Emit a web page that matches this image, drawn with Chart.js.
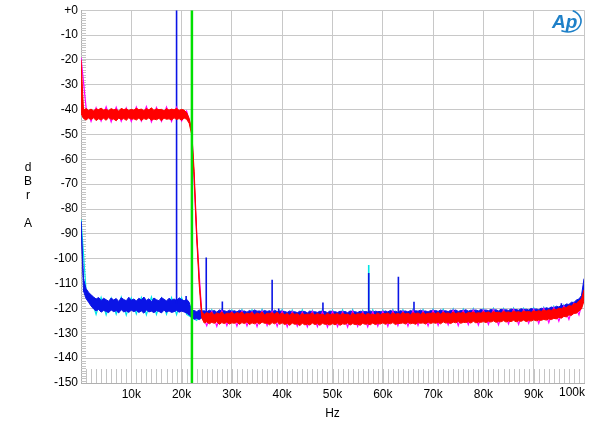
<!DOCTYPE html>
<html>
<head>
<meta charset="utf-8">
<script src="https://cdn.jsdelivr.net/npm/chart.js@4.4.1/dist/chart.umd.min.js"></script>
<style>
  html, body { margin: 0; padding: 0; background: #fff; }
  #wrap { width: 600px; height: 424px; }
</style>
</head>
<body>
<div id="wrap"><canvas id="fft-chart"></canvas></div>
<script>
// FFT traces in dBr A on a regular kHz grid.
// red / blue: upper and lower edge of the noise band (0.5 kHz steps)
// magenta / cyan: the second channel, seen only as specks round the edges (1 kHz steps)
const fineStepKHz = 0.5
const coarseStepKHz = 1

const redTopDb = [-20,
  -40.1,-39.6,-40.3,-39.8,-40.5,-39.7,-40.0,-39.4,-40.2,-39.9,-40.4,-39.6,-40.1,-39.8,-40.6,-39.5,-40.0,-39.7,-40.3,-39.9,
  -40.2,-39.5,-40.0,-39.8,-40.4,-39.6,-40.1,-39.3,-40.3,-39.7,-40.0,-39.9,-40.5,-39.6,-40.2,-39.8,-40.1,-39.5,-40.3,-39.9,
  -40.2,-41.2,-43.5,-48.0,-65.0,-89.0,-108.5,-121.2,-122.4,-121.7,-122.1,-121.5,-122.6,-121.8,-122.2,-121.4,-122.5,-121.9,-122.0,-121.6,
  -122.3,-121.7,-122.0,-121.5,-122.4,-121.9,-122.1,-121.6,-122.5,-121.8,-122.2,-121.4,-122.6,-121.9,-122.0,-121.7,-122.3,-121.5,-122.4,-121.8,
  -122.5,-122.0,-122.7,-121.8,-122.4,-122.1,-122.8,-121.9,-122.6,-122.2,-122.4,-121.8,-122.7,-122.0,-122.5,-122.2,-122.8,-121.9,-122.6,-122.1,
  -122.4,-122.0,-122.7,-121.9,-122.5,-122.2,-122.8,-121.8,-122.6,-122.1,-122.3,-121.9,-122.7,-122.0,-122.4,-122.2,-122.6,-121.8,-122.5,-122.0,
  -122.2,-121.8,-122.5,-121.7,-122.3,-122.0,-122.4,-121.6,-122.2,-121.9,-122.5,-121.7,-122.1,-121.8,-122.4,-121.6,-122.3,-121.9,-122.0,-121.7,
  -122.1,-121.6,-122.3,-121.5,-122.0,-121.8,-122.2,-121.4,-122.1,-121.7,-121.9,-121.5,-122.2,-121.6,-121.8,-121.4,-122.0,-121.7,-121.9,-121.3,
  -121.8,-121.4,-122.0,-121.2,-121.7,-121.5,-121.9,-121.1,-121.6,-121.4,-121.8,-121.0,-121.5,-121.3,-121.7,-121.0,-121.4,-121.2,-121.6,-120.9,
  -121.3,-120.9,-121.2,-120.6,-121.0,-120.5,-120.8,-120.2,-120.5,-119.9,-120.1,-119.5,-119.6,-118.9,-119.0,-118.1,-118.0,-117.0,-116.2,-112.5]

const redBottomDb = [-41.5,
  -43.6,-44.2,-43.4,-44.0,-43.3,-44.4,-43.7,-44.1,-43.5,-44.3,-43.2,-43.9,-43.8,-44.5,-43.4,-44.0,-43.6,-44.3,-43.3,-43.9,
  -43.7,-44.2,-43.4,-44.4,-43.6,-44.0,-43.3,-44.3,-43.8,-44.1,-43.5,-44.5,-43.4,-43.9,-43.7,-44.2,-43.3,-44.0,-43.6,-44.3,
  -43.4,-43.9,-45.5,-50.0,-67.5,-92.0,-110.5,-123.8,-125.9,-125.4,-126.2,-125.6,-126.0,-125.3,-126.4,-125.7,-126.1,-125.5,-126.3,-125.8,
  -126.0,-125.5,-126.4,-125.7,-126.1,-125.4,-126.5,-125.8,-126.2,-125.6,-126.3,-125.5,-126.0,-125.9,-126.6,-125.7,-126.2,-125.4,-126.4,-125.8,
  -126.5,-126.0,-126.8,-125.9,-126.4,-126.2,-126.9,-126.0,-126.6,-126.3,-126.7,-125.9,-126.5,-126.1,-126.8,-126.0,-126.4,-126.3,-126.7,-126.1,
  -126.6,-126.0,-126.8,-126.2,-126.4,-125.9,-126.7,-126.1,-126.5,-126.3,-126.8,-126.0,-126.4,-126.2,-126.6,-125.9,-126.5,-126.1,-126.3,-125.8,
  -126.4,-125.9,-126.2,-125.7,-126.5,-126.0,-126.1,-125.8,-126.3,-125.6,-126.2,-125.9,-126.4,-125.7,-126.0,-125.8,-126.3,-125.5,-126.1,-125.7,
  -126.0,-125.6,-126.2,-125.4,-125.9,-125.7,-126.1,-125.5,-125.8,-125.3,-126.0,-125.6,-125.7,-125.4,-125.9,-125.2,-125.8,-125.5,-125.6,-125.3,
  -125.7,-125.2,-125.5,-125.0,-125.6,-125.3,-125.4,-124.9,-125.5,-125.1,-125.3,-124.8,-125.4,-125.0,-125.2,-124.7,-125.3,-124.9,-125.1,-124.6,
  -125.0,-124.7,-124.8,-124.4,-124.7,-124.2,-124.5,-124.0,-124.2,-123.6,-123.9,-123.2,-123.4,-122.6,-122.8,-122.0,-121.9,-121.0,-120.2,-117.0]

const blueTopDb = [-85,
  -108.0,-112.0,-113.5,-114.5,-115.4,-116.2,-115.6,-116.8,-115.9,-116.5,-117.1,-115.8,-116.6,-116.0,-117.2,-115.7,-116.4,-116.9,-115.5,-116.7,
  -116.2,-117.0,-115.9,-116.6,-115.4,-116.8,-116.1,-117.3,-115.8,-116.5,-116.9,-115.6,-116.3,-117.0,-115.9,-116.7,-116.2,-116.8,-115.7,-116.4,
  -116.9,-116.3,-117.5,-121.0,-120.8,-121.3,-120.6,-121.1,-120.9,-121.4,-120.7,-121.2,-120.8,-121.5,-120.6,-121.0,-120.9,-121.3,-120.7,-121.2,
  -120.9,-121.4,-120.7,-121.2,-121.0,-121.5,-120.8,-121.3,-120.6,-121.1,-121.0,-121.4,-120.8,-121.2,-120.9,-121.5,-120.7,-121.3,-121.0,-121.2,
  -121.2,-121.6,-121.0,-121.5,-121.3,-121.7,-121.1,-121.4,-121.2,-121.8,-121.0,-121.5,-121.3,-121.6,-121.1,-121.4,-121.2,-121.7,-121.0,-121.5,
  -121.3,-121.6,-121.1,-121.5,-121.2,-121.7,-121.0,-121.4,-121.3,-121.6,-121.1,-121.5,-121.2,-121.4,-121.0,-121.6,-121.1,-121.3,-121.2,-121.5,
  -121.0,-121.4,-120.8,-121.3,-121.1,-121.5,-120.9,-121.2,-121.0,-121.4,-120.8,-121.3,-120.9,-121.1,-120.7,-121.2,-121.0,-121.4,-120.8,-121.1,
  -120.8,-121.2,-120.6,-121.1,-120.9,-121.3,-120.7,-121.0,-120.6,-121.2,-120.8,-121.0,-120.5,-121.1,-120.7,-120.9,-120.6,-121.0,-120.4,-120.8,
  -120.6,-120.9,-120.4,-120.8,-120.5,-121.0,-120.3,-120.7,-120.5,-120.8,-120.2,-120.6,-120.4,-120.7,-120.1,-120.5,-120.3,-120.6,-120.0,-120.4,
  -120.2,-120.5,-119.9,-120.3,-119.7,-120.0,-119.4,-119.8,-119.1,-119.4,-118.7,-119.0,-118.2,-118.4,-117.5,-117.6,-116.6,-116.2,-114.8,-108.0]

const blueBottomDb = [-85,
  -113.0,-116.0,-117.5,-119.0,-120.2,-121.0,-120.4,-121.5,-120.8,-121.2,-121.7,-120.6,-121.3,-120.9,-121.8,-120.5,-121.4,-121.0,-121.6,-120.7,
  -121.3,-120.8,-121.6,-121.0,-121.9,-120.6,-121.4,-121.1,-121.7,-120.9,-121.2,-121.8,-120.7,-121.5,-121.0,-121.6,-121.3,-120.8,-121.5,-121.1,
  -121.4,-121.9,-122.6,-123.6,-124.3,-124.0,-124.5,-123.8,-124.2,-124.6,-123.9,-124.4,-124.1,-124.7,-123.8,-124.3,-124.5,-124.0,-124.6,-124.2,
  -124.4,-124.0,-124.6,-124.2,-124.7,-123.9,-124.5,-124.1,-124.8,-124.3,-124.0,-124.6,-124.2,-124.7,-124.4,-123.9,-124.5,-124.2,-124.6,-124.1,
  -124.6,-124.3,-124.9,-124.4,-124.7,-124.2,-124.8,-124.5,-124.3,-124.9,-124.6,-124.2,-124.8,-124.4,-124.7,-124.3,-124.9,-124.5,-124.6,-124.2,
  -124.7,-124.4,-124.9,-124.3,-124.6,-124.8,-124.2,-124.7,-124.5,-124.9,-124.3,-124.6,-124.4,-124.8,-124.2,-124.7,-124.5,-124.3,-124.8,-124.4,
  -124.4,-124.1,-124.6,-124.0,-124.5,-124.2,-124.7,-124.1,-124.4,-124.6,-124.0,-124.5,-124.2,-124.3,-124.6,-124.0,-124.4,-124.1,-124.5,-124.2,
  -124.2,-123.9,-124.4,-123.8,-124.3,-124.0,-124.1,-123.7,-124.3,-123.9,-124.2,-123.8,-124.0,-123.6,-124.2,-123.9,-123.8,-124.1,-123.7,-124.0,
  -123.9,-123.6,-124.0,-123.5,-123.8,-123.7,-123.4,-123.9,-123.6,-123.8,-123.3,-123.7,-123.5,-123.2,-123.6,-123.4,-123.1,-123.5,-123.3,-123.0,
  -123.2,-122.9,-123.0,-122.6,-122.8,-122.3,-122.5,-122.0,-122.1,-121.6,-121.7,-121.1,-121.2,-120.5,-120.5,-119.7,-119.6,-118.6,-117.8,-114.0]

const magentaDb = [-19,
  -39.0,-44.8,-39.2,-44.6,-38.9,-44.9,-39.1,-44.7,-39.3,-44.8,
  -39.0,-44.6,-38.8,-44.9,-39.2,-44.7,-39.0,-44.8,-39.1,-44.6,
  -40.6,-48.0,-90.5,-121.8,-127.0,-121.2,-127.2,-121.0,-126.9,-121.3,
  -127.1,-121.1,-127.0,-121.4,-127.3,-121.0,-126.9,-121.2,-127.2,-121.1,
  -127.4,-121.3,-127.1,-121.5,-127.4,-121.2,-127.3,-121.4,-127.5,-121.2,
  -127.3,-121.4,-127.5,-121.1,-127.2,-121.4,-127.4,-121.3,-127.1,-121.2,
  -127.2,-121.0,-126.9,-121.2,-127.1,-120.9,-126.8,-121.1,-127.0,-120.8,
  -126.8,-121.0,-126.6,-120.7,-126.9,-120.9,-126.5,-120.6,-126.7,-120.7,
  -126.4,-120.5,-126.6,-120.6,-126.2,-120.4,-126.4,-120.5,-126.0,-120.3,
  -126.0,-120.0,-125.7,-119.6,-125.1,-119.0,-124.4,-118.0,-122.6,-115.0]

const cyanDb = [-84,
  -112.5,-115.8,-122.4,-115.6,-122.6,-115.9,-122.3,-115.5,-122.7,-115.8,
  -122.2,-115.6,-122.6,-115.4,-122.4,-115.9,-122.3,-115.6,-122.5,-115.7,
  -122.4,-123.6,-124.8,-120.4,-125.0,-120.5,-124.9,-120.3,-125.1,-120.6,
  -124.9,-120.4,-125.1,-120.5,-124.8,-120.3,-125.0,-120.6,-124.9,-120.4,
  -125.2,-120.6,-125.0,-120.5,-125.3,-120.7,-125.1,-120.4,-125.2,-120.6,
  -125.1,-120.5,-125.3,-120.4,-125.0,-120.7,-125.2,-120.5,-125.1,-120.6,
  -124.9,-120.4,-125.1,-120.5,-124.8,-120.3,-125.0,-120.4,-124.7,-120.2,
  -124.8,-120.3,-124.6,-120.1,-124.8,-120.2,-124.5,-120.0,-124.6,-120.1,
  -124.4,-119.9,-124.5,-120.0,-124.3,-119.8,-124.4,-119.9,-124.2,-119.7,
  -124.0,-119.5,-123.7,-119.1,-123.3,-118.6,-122.5,-117.6,-120.8,-111.5]

// discrete tones (spurs)
const blueSpikeKHz = [19.0, 20.9, 24.9, 28.1, 38.0, 39.3, 48.1, 57.2, 63.1, 66.2, 95.5]
const blueSpikeTop = [0, -115, -99.5, -117.2, -108.5, -120, -117.6, -105.7, -107.2, -117.3, -117.9]
const blueSpikeBase = [-118, -118, -122, -122, -122, -122, -122, -122, -122, -122, -121]
const cyanSpikeKHz = [57.2]
const cyanSpikeTop = [-102.5]
const cyanSpikeBase = [-122]

// fs/2 marker
const markerKHz = 22.05

const yTicks = [0, -10, -20, -30, -40, -50, -60, -70, -80, -90, -100, -110, -120, -130, -140, -150]

const FONT = '"Liberation Sans", Arial, sans-serif'
const RED = '#ff0000'
const BLUE = '#0a14e6'
const CYAN = '#00e6e6'
const MAGENTA = '#ff00ff'

function toPoints(values, step) {
  return values.map((v, i) => ({ x: i * step, y: v }))
}

function spikePoints(freqs, tops, bases) {
  const pts = []
  freqs.forEach((f, i) => {
    pts.push({ x: f, y: bases[i] }, { x: f, y: tops[i] }, { x: f, y: null })
  })
  return pts
}

const decor = {
  id: 'decor',
  beforeDatasetsDraw(chart) {
    const { ctx, chartArea: a, scales: { x, y } } = chart
    ctx.save()
    ctx.strokeStyle = '#c4c4c4'
    ctx.lineWidth = 1
    ctx.beginPath()
    for (let k = 1; k < 100; k++) {
      const px = Math.round(x.getPixelForValue(k)) + 0.5
      ctx.moveTo(px, a.bottom)
      ctx.lineTo(px, a.bottom - 14)
    }
    for (let d = -149; d < 0; d++) {
      const py = Math.round(y.getPixelForValue(d)) + 0.5
      ctx.moveTo(a.left, py)
      ctx.lineTo(a.left + 5, py)
    }
    ctx.stroke()
    ctx.restore()
  },
  afterDraw(chart) {
    const { ctx, chartArea: a } = chart
    ctx.save()
    ctx.fillStyle = '#000'
    ctx.font = '12px ' + FONT
    // last x label sits flush with the right edge
    ctx.textAlign = 'right'
    ctx.textBaseline = 'top'
    ctx.fillText('100k', a.right + 1, a.bottom + 4)
    // stacked y-axis title
    ctx.textAlign = 'center'
    ctx.textBaseline = 'middle'
    ctx.fillText('d', 28, 168)
    ctx.fillText('B', 28, 182)
    ctx.fillText('r', 28, 196)
    ctx.fillText('A', 28, 224)
    // Ap logo
    ctx.fillStyle = '#1e80c8'
    ctx.font = 'italic bold 19px ' + FONT
    ctx.textAlign = 'left'
    ctx.textBaseline = 'alphabetic'
    ctx.fillText('Ap', 552, 28)
    ctx.strokeStyle = '#1e80c8'
    ctx.lineWidth = 1.6
    ctx.beginPath()
    ctx.ellipse(568, 21, 13, 11, 0, -1.2, 2.1)
    ctx.stroke()
    ctx.restore()
  }
}

window.onload = () => {
  new Chart(document.getElementById('fft-chart'), {
    type: 'line',
    data: {
      datasets: [
        { data: [{ x: markerKHz, y: -150 }, { x: markerKHz, y: 0 }], borderColor: '#00e000', borderWidth: 2.5 },
        { data: toPoints(redTopDb, fineStepKHz), borderColor: RED, backgroundColor: RED, borderWidth: 1, fill: '+1' },
        { data: toPoints(redBottomDb, fineStepKHz), borderColor: RED, borderWidth: 1 },
        { data: toPoints(magentaDb, coarseStepKHz), borderColor: MAGENTA, borderWidth: 1.2 },
        { data: spikePoints(blueSpikeKHz, blueSpikeTop, blueSpikeBase), borderColor: BLUE, borderWidth: 1.6 },
        { data: toPoints(blueTopDb, fineStepKHz), borderColor: BLUE, backgroundColor: BLUE, borderWidth: 1, fill: '+1' },
        { data: toPoints(blueBottomDb, fineStepKHz), borderColor: BLUE, borderWidth: 1 },
        { data: spikePoints(cyanSpikeKHz, cyanSpikeTop, cyanSpikeBase), borderColor: CYAN, borderWidth: 1.6 },
        { data: toPoints(cyanDb, coarseStepKHz), borderColor: CYAN, borderWidth: 1.2 }
      ]
    },
    options: {
      responsive: true,
      maintainAspectRatio: false,
      animation: false,
      layout: { padding: { left: 0, top: 8, right: 16, bottom: 0 } },
      plugins: { legend: { display: false }, tooltip: { enabled: false } },
      elements: { point: { radius: 0 }, line: { tension: 0 } },
      scales: {
        x: {
          type: 'linear', min: 0, max: 100,
          afterFit: s => { s.height = 41 },
          ticks: {
            stepSize: 10, padding: 4, color: '#000', maxRotation: 0, autoSkip: false,
            font: { family: FONT, size: 12 },
            callback: v => (v === 0 || v === 100) ? '' : v + 'k'
          },
          grid: { color: '#c8c8c8', drawTicks: false },
          border: { color: '#b0b0b0' },
          title: { display: true, text: 'Hz', color: '#000', font: { family: FONT, size: 12 }, padding: { top: 0, bottom: 3 } }
        },
        y: {
          min: -150, max: 0,
          afterFit: s => { s.width = 81 },
          afterBuildTicks: s => { s.ticks = yTicks.map(v => ({ value: v })) },
          ticks: {
            padding: 3, color: '#000',
            font: { family: FONT, size: 12 },
            callback: v => v === 0 ? '+0' : String(v)
          },
          grid: { color: '#c8c8c8', drawTicks: false },
          border: { color: '#b0b0b0' }
        }
      }
    },
    plugins: [decor]
  })
}
</script>
</body>
</html>
